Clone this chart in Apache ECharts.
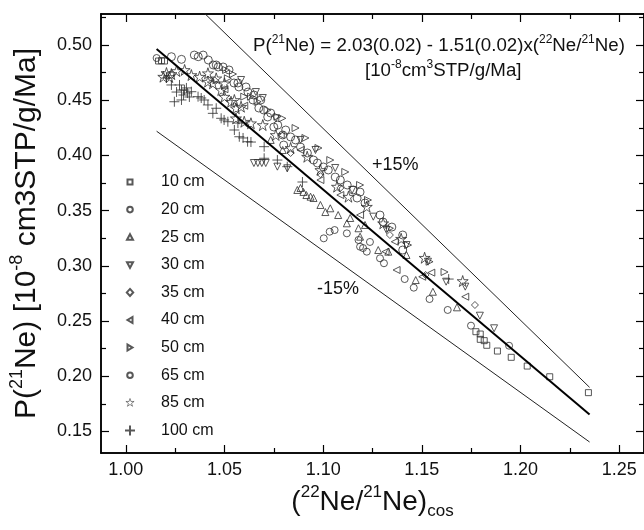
<!DOCTYPE html>
<html><head><meta charset="utf-8">
<script src="https://cdn.jsdelivr.net/npm/echarts@6/dist/echarts.min.js"></script>
<style>html,body{margin:0;padding:0;background:#fff}#c{width:644px;height:530px}</style>
</head><body><div id="c"></div>
<script>
// ---- tick values ----
const xMajor = [1.00, 1.05, 1.10, 1.15, 1.20, 1.25];
const xMinor = [1.025, 1.075, 1.125, 1.175, 1.225];
const yMajor = [0.15, 0.20, 0.25, 0.30, 0.35, 0.40, 0.45, 0.50];
const yMinor = [0.175, 0.225, 0.275, 0.325, 0.375, 0.425, 0.475, 0.525];

// ---- series names ----
const seriesNames = ['10 cm','20 cm','25 cm','30 cm','35 cm','40 cm','50 cm','65 cm','85 cm','100 cm'];

// ---- data [(22Ne/21Ne)cos, P(21Ne)] ----
const s10 = [[1.0166,0.4855],[1.0181,0.4858],[1.0196,0.4855],[1.1774,0.2403],[1.1796,0.2382],[1.1796,0.2334],[1.1816,0.2322],[1.1829,0.2280],[1.1883,0.2228],[1.1953,0.2171],[1.2034,0.2092],[1.2148,0.1995],[1.2344,0.1851]];
const s20 = [[1.0156,0.4882],[1.1003,0.3249],[1.1033,0.3309],[1.1058,0.3324],[1.1120,0.3294],[1.1179,0.3234],[1.1187,0.3173],[1.1202,0.3161],[1.1221,0.3128],[1.1237,0.3216],[1.1288,0.3068],[1.1308,0.3023],[1.1413,0.2880],[1.1459,0.2802],[1.1539,0.2699],[1.1631,0.2600],[1.1749,0.2458],[1.1942,0.2276]];
const s25 = [[1.0734,0.4140],[1.0795,0.4049],[1.0869,0.3687],[1.0885,0.3705],[1.0900,0.3669],[1.0915,0.3641],[1.0936,0.3626],[1.0951,0.3614],[1.0986,0.3551],[1.1011,0.3487],[1.1036,0.3521],[1.1076,0.3460],[1.1120,0.3385],[1.1137,0.3433],[1.1179,0.3340],[1.1187,0.3264],[1.1212,0.3370],[1.1279,0.3143],[1.1330,0.3128],[1.1422,0.3098],[1.1469,0.2871],[1.1556,0.2765],[1.1678,0.2624]];
const s30 = [[1.0584,0.4683],[1.0659,0.4574],[1.0694,0.4520],[1.0760,0.4336],[1.0649,0.3931],[1.0669,0.3931],[1.0689,0.3931],[1.0709,0.3931],[1.0768,0.3898],[1.0818,0.3883],[1.0885,0.4140],[1.0961,0.4049],[1.1061,0.3886],[1.1147,0.3687],[1.1254,0.3445],[1.1321,0.3324],[1.1422,0.3188],[1.1531,0.3037],[1.1623,0.2856],[1.1720,0.2811],[1.1794,0.2548],[1.1866,0.2434]];
const s35 = [[1.0450,0.4680],[1.0835,0.4022],[1.0986,0.3830],[1.1087,0.3705],[1.1338,0.3279],[1.1519,0.2917],[1.1769,0.2645]];
const s40 = [[1.0500,0.4600],[1.0600,0.4450],[1.0785,0.4185],[1.0885,0.4049],[1.0986,0.3777],[1.1087,0.3641],[1.1187,0.3460],[1.1316,0.3128],[1.1363,0.3218],[1.1372,0.2962],[1.1502,0.2901],[1.1548,0.2938],[1.1720,0.2720]];
const s50 = [[1.0508,0.4774],[1.0517,0.4698],[1.0543,0.4737],[1.0600,0.4532],[1.0634,0.4532],[1.0668,0.4486],[1.0718,0.4411],[1.0768,0.4351],[1.0793,0.4336],[1.0860,0.4248],[1.0910,0.4158],[1.0976,0.4067],[1.1036,0.3958],[1.1112,0.3850],[1.1187,0.3732],[1.1227,0.3596],[1.1338,0.3340],[1.1430,0.3188],[1.1539,0.3037],[1.1615,0.2944]];
const s65 = [[1.0231,0.4894],[1.0282,0.4870],[1.0347,0.4909],[1.0367,0.4894],[1.0392,0.4909],[1.0418,0.4864],[1.0443,0.4819],[1.0458,0.4819],[1.0468,0.4801],[1.0493,0.4801],[1.0523,0.4774],[1.0548,0.4656],[1.0568,0.4656],[1.0573,0.4620],[1.0609,0.4620],[1.0619,0.4574],[1.0644,0.4502],[1.0649,0.4547],[1.0674,0.4429],[1.0684,0.4502],[1.0699,0.4411],[1.0719,0.4348],[1.0734,0.4384],[1.0750,0.4257],[1.0770,0.4275],[1.0795,0.4185],[1.0810,0.4230],[1.0835,0.4167],[1.0800,0.4094],[1.0860,0.4140],[1.0885,0.4076],[1.0920,0.4022],[1.0951,0.3958],[1.0971,0.3931],[1.1001,0.3895],[1.1026,0.3868],[1.1061,0.3804],[1.1087,0.3777],[1.1122,0.3732],[1.1152,0.3687],[1.1172,0.3614],[1.1187,0.3668],[1.1212,0.3569],[1.1288,0.3460],[1.1303,0.3397],[1.1348,0.3351],[1.1403,0.3279],[1.1403,0.3143]];
const s85 = [[1.0190,0.4713],[1.0206,0.4746],[1.0221,0.4710],[1.0231,0.4737],[1.0257,0.4764],[1.0298,0.4774],[1.0332,0.4728],[1.0374,0.4713],[1.0416,0.4744],[1.0416,0.4668],[1.0441,0.4653],[1.0458,0.4698],[1.0483,0.4592],[1.0500,0.4653],[1.0500,0.4532],[1.0533,0.4486],[1.0550,0.4502],[1.0558,0.4427],[1.0584,0.4441],[1.0558,0.4336],[1.0600,0.4305],[1.0634,0.4291],[1.0694,0.4275],[1.0760,0.4185],[1.0835,0.4067],[1.0919,0.3988],[1.0986,0.3868],[1.1070,0.3717],[1.1128,0.3626],[1.1221,0.3535],[1.1304,0.3385],[1.1395,0.3245],[1.1514,0.3073],[1.1707,0.2862]];
const s100 = [[1.0206,0.4701],[1.0231,0.4638],[1.0246,0.4486],[1.0257,0.4574],[1.0272,0.4638],[1.0282,0.4592],[1.0282,0.4502],[1.0292,0.4547],[1.0297,0.4592],[1.0307,0.4611],[1.0312,0.4565],[1.0322,0.4529],[1.0332,0.4577],[1.0366,0.4532],[1.0382,0.4520],[1.0397,0.4502],[1.0416,0.4457],[1.0441,0.4381],[1.0458,0.4427],[1.0483,0.4336],[1.0498,0.4321],[1.0517,0.4305],[1.0550,0.4230],[1.0568,0.4293],[1.0575,0.4169],[1.0594,0.4158],[1.0617,0.4124],[1.0634,0.4121],[1.0701,0.4079],[1.0701,0.3974],[1.0768,0.3958],[1.0818,0.3898],[1.0895,0.3759],[1.1636,0.2880]];

// ---- regression line and +/-15% envelopes (end points) ----
const fitLine   = [[1.0156,0.4964],[1.2350,0.1653]];
const plus15    = [[1.0156,0.5709],[1.2350,0.1899]];
const minus15   = [[1.0156,0.4219],[1.2350,0.1404]];

const FONT = '"Liberation Sans", Arial, Helvetica, sans-serif';
const STAR = 'M50,0L61.2,34.5L97.6,34.5L68.2,55.9L79.4,90.5L50,69.1L20.6,90.5L31.8,55.9L2.4,34.5L38.8,34.5Z';
const SYM = {
  square: 'rect', circle: 'circle', triUp: 'triangle',
  triDown: 'path://M0,0L10,0L5,8.66Z', diamond: 'diamond',
  triLeft: 'path://M8.66,0L8.66,10L0,5Z', triRight: 'path://M0,0L0,10L8.66,5Z',
  star: 'path://' + STAR,
  plus: 'path://M5,0L5,10M0,5L10,5'
};
const LEG = {
  square: 'path://M0,0M10,10M2.5,2.5L7.5,2.5L7.5,7.5L2.5,7.5Z',
  circle: 'path://M0,0M10,10M7.8,5A2.8,2.8,0,1,1,2.2,5A2.8,2.8,0,1,1,7.8,5Z',
  triUp: 'path://M0,0M10,10M5,2L8,7.5L2,7.5Z',
  triDown: 'path://M0,0M10,10M2,2.5L8,2.5L5,8Z',
  diamond: 'path://M0,0M10,10M5,1.5L8.2,5L5,8.5L1.8,5Z',
  triLeft: 'path://M0,0M10,10M7.5,2L7.5,8L2.5,5Z',
  triRight: 'path://M0,0M10,10M2.5,2L2.5,8L7.5,5Z',
  star: 'path://M-8,-8M108,108' + STAR,
  plus: SYM.plus
};
const seriesData = [s10, s20, s25, s30, s35, s40, s50, s65, s85, s100];
const seriesSym  = ['square','circle','triUp','triDown','diamond','triLeft','triRight','circle','star','plus'];
const seriesSize = [6, 7, 7, 7, 7, 7, 7, 8, 11, 10];

const XMIN = 0.98742, XMAX = 1.26257, YMIN = 0.13044, YMAX = 0.52808;
const axisLineStyle = {color:'#000', width:1.5};

function xAx(pos, ticks, len, labels, extra) {
  return Object.assign({
    type:'value', min:XMIN, max:XMAX, position:pos,
    axisLine:{show:true, onZero:false, lineStyle:axisLineStyle},
    axisTick:{show:true, inside:true, length:len, customValues:ticks, lineStyle:{color:'#000', width:1.2}},
    axisLabel:labels ? {show:true, customValues:ticks, formatter:v=>v.toFixed(2), fontSize:18, color:'#111', margin:8, fontFamily:FONT} : {show:false},
    splitLine:{show:false}
  }, extra || {});
}
function yAx(pos, ticks, len, labels, extra) {
  return Object.assign({
    type:'value', min:YMIN, max:YMAX, position:pos,
    axisLine:{show:true, onZero:false, lineStyle:axisLineStyle},
    axisTick:{show:true, inside:true, length:len, customValues:ticks, lineStyle:{color:'#000', width:1.2}},
    axisLabel:labels ? {show:true, customValues:ticks, formatter:v=>v.toFixed(2), fontSize:18, color:'#111', margin:9, fontFamily:FONT} : {show:false},
    splitLine:{show:false}
  }, extra || {});
}

const xTitleRich = {
  m:{fontSize:28, lineHeight:36, verticalAlign:'middle', fontFamily:FONT, color:'#111'},
  s:{fontSize:17, lineHeight:18, verticalAlign:'top', fontFamily:FONT, color:'#111'},
  b:{fontSize:17, lineHeight:18, verticalAlign:'bottom', fontFamily:FONT, color:'#111'}
};
const yTitleRich = {
  m:{fontSize:30, lineHeight:37, verticalAlign:'middle', fontFamily:FONT, color:'#111'},
  s:{fontSize:18, lineHeight:19, verticalAlign:'top', fontFamily:FONT, color:'#111'}
};

const series = seriesData.map((d, i) => ({
  type:'scatter', name:seriesNames[i], data:d,
  symbol:SYM[seriesSym[i]], symbolSize:seriesSize[i],
  itemStyle:{color:'rgba(0,0,0,0)', borderColor:'#2e2e2e', borderWidth:1},
  emphasis:{disabled:true}, z:2
}));
function lineSeries(d, w, c) {
  return {type:'line', data:d, symbol:'none', silent:true, z:3, clip:true,
    lineStyle:{color:c, width:w}, emphasis:{disabled:true}};
}
series.push(lineSeries(fitLine, 2, '#000'));
series.push(lineSeries(plus15, 1, '#222'));
series.push(lineSeries(minus15, 1, '#222'));

const chart = echarts.init(document.getElementById('c'), null, {renderer:'canvas'});
chart.setOption({
  animation:false,
  backgroundColor:'#fff',
  grid:{left:99, right:-2, top:14, bottom:77, containLabel:false},
  xAxis:[
    xAx('bottom', xMajor, 8, true, {
      name:'{m|(}{s|22}{m|Ne/}{s|21}{m|Ne)}{b|cos}', nameLocation:'middle', nameGap:26,
      nameTextStyle:{rich:xTitleRich}
    }),
    xAx('bottom', xMinor, 5, false),
    xAx('top', xMajor, 8, false),
    xAx('top', xMinor, 5, false)
  ],
  yAxis:[
    yAx('left', yMajor, 8, true, {
      name:'{m|P(}{s|21}{m|Ne) [10}{s|-8}{m| cm3STP/g/Ma]}', nameLocation:'middle', nameGap:56,
      nameTextStyle:{rich:yTitleRich}
    }),
    yAx('left', yMinor, 5, false),
    yAx('right', yMajor, 8, false),
    yAx('right', yMinor, 5, false)
  ],
  legend:{
    orient:'vertical', left:124, top:174, padding:0,
    itemWidth:10, itemHeight:10, itemGap:11.6,
    textStyle:{fontSize:16, lineHeight:16, color:'#111', fontFamily:FONT, padding:[0,0,0,21]},
    data:seriesNames.map((n, i) => (seriesSym[i] === 'star'
      ? {name:n, icon:LEG.star, itemStyle:{color:'rgba(0,0,0,0)', borderColor:'#2e2e2e', borderWidth:0.7}}
      : {name:n, icon:LEG[seriesSym[i]]})),
    selectedMode:false
  },
  graphic:[
    {type:'text', x:253, y:46, style:{
      text:'{m|P(}{s|21}{m|Ne) = 2.03(0.02) - 1.51(0.02)x(}{s|22}{m|Ne/}{s|21}{m|Ne)}',
      verticalAlign:'middle', align:'left',
      rich:{m:{fontSize:18.7, lineHeight:24, verticalAlign:'middle', fontFamily:FONT, fill:'#111'},
            s:{fontSize:12, lineHeight:13, verticalAlign:'top', fontFamily:FONT, fill:'#111'}}
    }},
    {type:'text', x:365, y:71, style:{
      text:'{m|[10}{s|-8}{m|cm}{s|3}{m|STP/g/Ma]}',
      verticalAlign:'middle', align:'left',
      rich:{m:{fontSize:18.7, lineHeight:24, verticalAlign:'middle', fontFamily:FONT, fill:'#111'},
            s:{fontSize:12, lineHeight:13, verticalAlign:'top', fontFamily:FONT, fill:'#111'}}
    }},
    {type:'text', x:372, y:165, style:{text:'+15%', fontSize:18, fontFamily:FONT, fill:'#111', verticalAlign:'middle', align:'left'}},
    {type:'text', x:317, y:289, style:{text:'-15%', fontSize:18, fontFamily:FONT, fill:'#111', verticalAlign:'middle', align:'left'}}
  ],
  series:series
});
</script>
</body></html>
